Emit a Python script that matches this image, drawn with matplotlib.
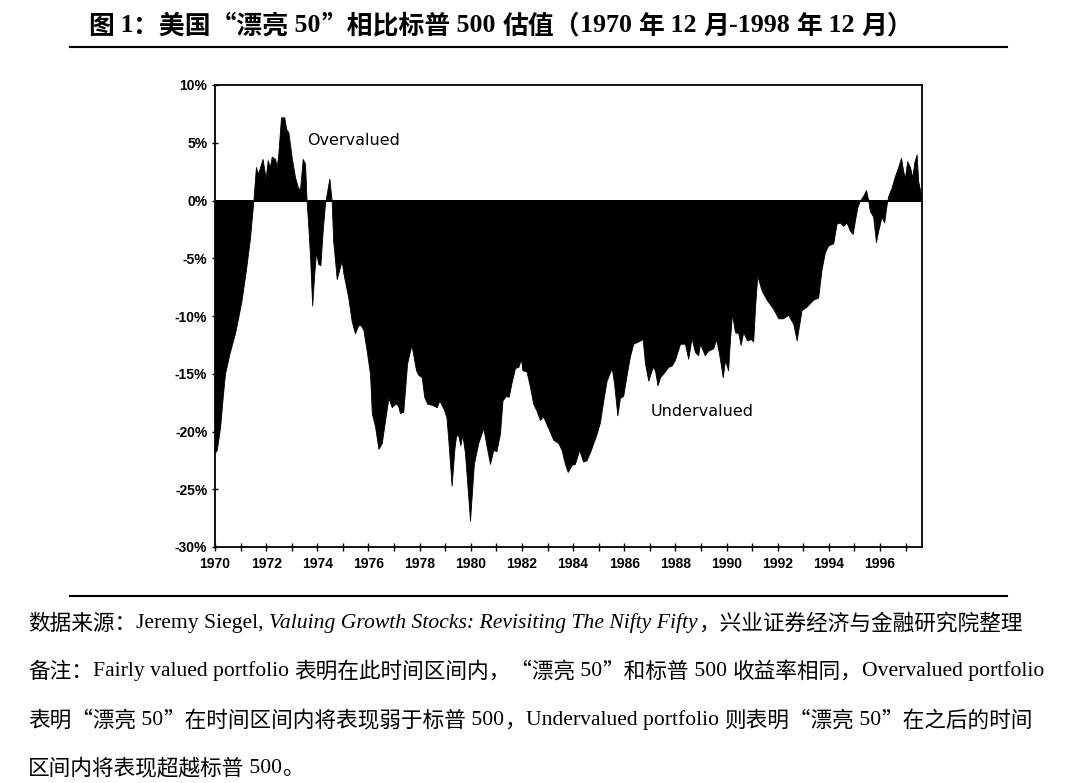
import matplotlib
matplotlib.use("Agg")
import matplotlib.pyplot as plt
from matplotlib.lines import Line2D
from matplotlib.ticker import MultipleLocator

# valuation gap of the Nifty Fifty vs S&P 500 (%)
years = [
    1970.00, 1970.07, 1970.20, 1970.29, 1970.39, 1970.56, 1970.78, 1970.91, 1971.04, 1971.21,
    1971.37, 1971.50, 1971.60, 1971.68, 1971.86, 1971.98, 1972.06, 1972.14, 1972.22, 1972.35,
    1972.41, 1972.47, 1972.58, 1972.71, 1972.78, 1972.87, 1973.00, 1973.13, 1973.26, 1973.33,
    1973.43, 1973.52, 1973.58, 1973.65, 1973.71, 1973.80, 1973.87, 1973.95, 1974.04, 1974.12,
    1974.21, 1974.30, 1974.47, 1974.56, 1974.62, 1974.76, 1974.95, 1975.02, 1975.21, 1975.34,
    1975.47, 1975.60, 1975.70, 1975.80, 1975.93, 1976.06, 1976.13, 1976.26, 1976.39, 1976.52,
    1976.65, 1976.78, 1976.91, 1977.04, 1977.15, 1977.23, 1977.36, 1977.51, 1977.68, 1977.86,
    1977.95, 1978.08, 1978.18, 1978.30, 1978.50, 1978.67, 1978.77, 1978.95, 1979.05, 1979.12,
    1979.25, 1979.36, 1979.43, 1979.52, 1979.59, 1979.67, 1979.77, 1979.97, 1980.12, 1980.29,
    1980.49, 1980.62, 1980.75, 1980.88, 1981.00, 1981.14, 1981.24, 1981.38, 1981.48, 1981.60,
    1981.73, 1981.86, 1981.96, 1982.02, 1982.18, 1982.31, 1982.44, 1982.57, 1982.70, 1982.83,
    1983.03, 1983.22, 1983.42, 1983.55, 1983.68, 1983.79, 1983.94, 1984.07, 1984.24, 1984.39,
    1984.52, 1984.66, 1984.79, 1984.92, 1985.05, 1985.18, 1985.31, 1985.51, 1985.60, 1985.73,
    1985.83, 1985.96, 1986.10, 1986.22, 1986.35, 1986.55, 1986.72, 1986.81, 1986.94, 1987.11,
    1987.20, 1987.30, 1987.40, 1987.59, 1987.72, 1987.85, 1987.98, 1988.18, 1988.37, 1988.50,
    1988.63, 1988.76, 1988.89, 1988.96, 1989.15, 1989.28, 1989.48, 1989.59, 1989.71, 1989.85,
    1989.94, 1990.06, 1990.13, 1990.21, 1990.33, 1990.46, 1990.55, 1990.65, 1990.80, 1990.95,
    1991.04, 1991.12, 1991.20, 1991.37, 1991.57, 1991.83, 1992.02, 1992.20, 1992.41, 1992.61,
    1992.74, 1992.93, 1993.12, 1993.38, 1993.58, 1993.71, 1993.84, 1993.97, 1994.17, 1994.30,
    1994.43, 1994.56, 1994.69, 1994.82, 1994.93, 1995.02, 1995.11, 1995.21, 1995.34, 1995.45,
    1995.54, 1995.60, 1995.73, 1995.84, 1995.93, 1996.06, 1996.16, 1996.26, 1996.32, 1996.45,
    1996.58, 1996.71, 1996.82, 1996.90, 1996.97, 1997.06, 1997.17, 1997.26, 1997.34, 1997.43,
    1997.49, 1997.59,
]
gap = [
    -21.8, -21.6, -19.6, -17.3, -15.0, -13.3, -11.5, -10.1, -8.6, -6.0,
    -3.2, 0.0, 2.9, 2.3, 3.6, 1.9, 3.5, 2.9, 3.8, 3.6,
    2.9, 3.9, 7.2, 7.2, 6.2, 5.9, 3.7, 2.0, 1.0, 1.1,
    3.6, 3.2, 0.0, -2.3, -4.6, -9.1, -6.6, -4.5, -5.5, -5.6,
    -2.6, -0.3, 1.9, 0.0, -3.5, -6.8, -5.2, -6.3, -8.4, -10.4,
    -11.5, -10.8, -10.8, -11.2, -13.0, -15.0, -18.4, -19.6, -21.5, -21.0,
    -19.0, -17.1, -17.9, -17.6, -17.7, -18.4, -18.3, -14.1, -12.5, -14.7,
    -15.1, -15.3, -17.0, -17.6, -17.7, -17.9, -17.3, -18.1, -18.8, -20.7,
    -24.7, -21.5, -20.3, -20.4, -21.2, -20.3, -21.8, -27.7, -22.8, -21.0,
    -19.7, -21.3, -22.8, -21.6, -21.7, -20.2, -17.3, -16.9, -17.0, -15.7,
    -14.5, -14.4, -13.7, -14.7, -14.8, -16.1, -17.6, -18.2, -19.0, -18.7,
    -19.7, -20.7, -21.0, -21.6, -22.8, -23.5, -22.9, -22.8, -21.6, -22.6,
    -22.5, -21.8, -21.0, -20.2, -19.2, -17.3, -15.6, -14.5, -15.8, -18.6,
    -17.1, -16.9, -15.0, -13.5, -12.4, -12.2, -12.0, -14.1, -15.6, -14.4,
    -14.7, -16.0, -15.3, -14.8, -14.4, -14.3, -13.8, -12.4, -12.4, -13.7,
    -11.9, -13.1, -13.4, -12.4, -13.4, -13.0, -12.8, -12.0, -13.3, -15.3,
    -13.8, -14.7, -12.1, -9.8, -11.4, -11.5, -12.5, -11.4, -12.1, -12.0,
    -12.2, -9.0, -6.5, -7.8, -8.6, -9.4, -10.2, -10.2, -9.9, -10.7,
    -12.1, -9.5, -9.2, -8.6, -8.4, -6.0, -4.5, -3.9, -3.7, -2.0,
    -1.9, -2.2, -1.9, -2.6, -2.9, -1.7, -0.6, 0.0, 0.4, 0.9,
    0.0, -0.9, -1.4, -3.6, -2.6, -1.4, -1.9, -0.3, 0.4, 1.1,
    2.1, 2.9, 3.7, 2.6, 1.9, 3.4, 2.9, 2.0, 3.3, 4.0,
    1.7, 0.6,
]

xtick_years = list(range(1970, 1998, 2))
ytick_vals = [10, 5, 0, -5, -10, -15, -20, -25, -30]
ytick_labels = ["10%", "5%", "0%", "-5%", "-10%", "-15%", "-20%", "-25%", "-30%"]

title = "图 1：美国“漂亮 50”相比标普 500 估值（1970 年 12 月-1998 年 12 月）"

fig = plt.figure(figsize=(10.8, 7.83), dpi=100)
ax = fig.add_axes([215 / 1080, 1 - 547 / 783, (922 - 215) / 1080, (547 - 85) / 783])

ax.fill_between(years, gap, 0, color="black", linewidth=0.6, edgecolor="black")
ax.axhline(0, color="black", linewidth=1.4)

ax.set_xlim(1970, 1997.64)
ax.set_ylim(-30, 10)
ax.set_xticks(xtick_years)
ax.set_xticklabels([str(y) for y in xtick_years])
ax.xaxis.set_minor_locator(MultipleLocator(1))
ax.set_yticks(ytick_vals)
ax.set_yticklabels(ytick_labels)
for lab in ax.get_xticklabels() + ax.get_yticklabels():
    lab.set_fontfamily("Liberation Sans")
    lab.set_fontweight("bold")
    lab.set_fontsize(10)
ax.tick_params(axis="x", which="both", direction="inout", length=6, width=1, pad=4)
ax.tick_params(axis="y", direction="inout", length=5, width=1, pad=3)
for s in ax.spines.values():
    s.set_linewidth(1.3)

ax.text(1975.43, 5.2, "Overvalued", fontsize=11.5, fontfamily="DejaVu Sans", ha="center", va="center")
ax.text(1989.04, -18.3, "Undervalued", fontsize=11.5, fontfamily="DejaVu Sans", ha="center", va="center")

fig.add_artist(Line2D([70 / 1080, 1007 / 1080], [1 - 47 / 783] * 2, color="black", linewidth=1.5))
fig.add_artist(Line2D([70 / 1080, 1007 / 1080], [1 - 596 / 783] * 2, color="black", linewidth=1.5))

renderer = fig.canvas.get_renderer()


def write_runs(x_px, y_px, text, size, style="normal", weight="normal"):
    # Latin text in a serif face, Chinese (and full-width punctuation) in the CJK face
    runs = []
    for ch in text:
        latin = ord(ch) < 128
        if runs and runs[-1][0] == latin:
            runs[-1][1] += ch
        else:
            runs.append([latin, ch])
    x0 = x_px / 1080
    for latin, chunk in runs:
        fam = "Liberation Serif" if latin else "Noto Sans CJK SC"
        t = fig.text(x0, 1 - y_px / 783, chunk, fontsize=size, family=fam,
                     style=style if latin else "normal", fontweight=weight,
                     ha="left", va="center_baseline")
        bb = t.get_window_extent(renderer=renderer)
        x0 = bb.x1 / fig.bbox.width
    return x0 * 1080


write_runs(88, 23, title, 18.6, weight="bold")

note_size = 15.6
xe = write_runs(28, 621, "数据来源：Jeremy Siegel, ", note_size)
xe = write_runs(xe, 621, "Valuing Growth Stocks: Revisiting The Nifty Fifty", note_size, style="italic")
write_runs(xe, 621, "，兴业证券经济与金融研究院整理", note_size)
write_runs(28, 669, "备注：Fairly valued portfolio 表明在此时间区间内，“漂亮 50”和标普 500 收益率相同，Overvalued portfolio", note_size)
write_runs(28, 718, "表明“漂亮 50”在时间区间内将表现弱于标普 500，Undervalued portfolio 则表明“漂亮 50”在之后的时间", note_size)
write_runs(28, 766, "区间内将表现超越标普 500。", note_size)

fig.savefig("out.png", dpi=100)
